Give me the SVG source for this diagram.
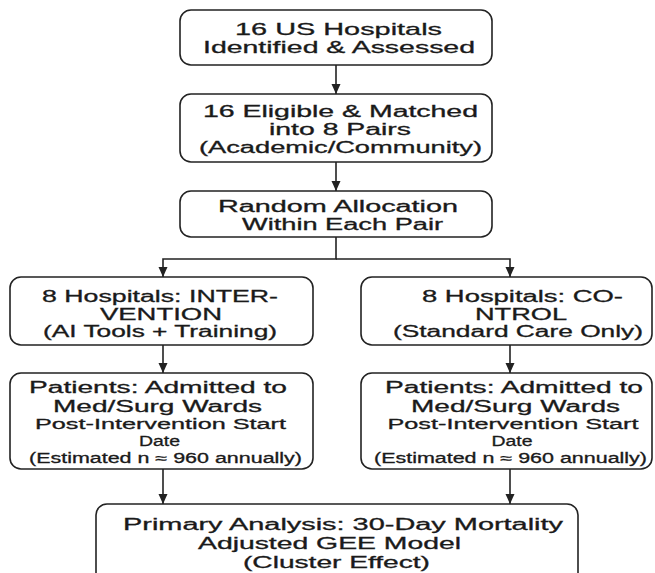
<svg xmlns="http://www.w3.org/2000/svg" width="655" height="573" viewBox="0 0 655 573">
<style>
.box{fill:#fff;stroke:#222;stroke-width:1.6}
.t{font-family:"Liberation Sans",Arial,sans-serif;font-size:16px;fill:#1a1a1a;stroke:#1a1a1a;stroke-width:0.3;text-anchor:middle}
.s{font-size:14px}
.b{font-size:17px}
.c{fill:none;stroke:#222;stroke-width:1.6}
</style>
<defs>
<marker id="ah" markerUnits="userSpaceOnUse" markerWidth="10" markerHeight="10" refX="10" refY="5" orient="auto">
<path d="M0,0.5 L10,5 L0,9.5 z" fill="#222"/>
</marker>
</defs>
<rect width="655" height="573" fill="#fff"/>
<g id="connectors">
<path class="c" d="M336,65 V94" marker-end="url(#ah)"/>
<path class="c" d="M336,162 V191" marker-end="url(#ah)"/>
<path class="c" d="M336,237 V259 H163 V277" marker-end="url(#ah)"/>
<path class="c" d="M336,259 H510 V277" marker-end="url(#ah)"/>
<path class="c" d="M163,345 V373" marker-end="url(#ah)"/>
<path class="c" d="M510,345 V373" marker-end="url(#ah)"/>
<path class="c" d="M163,469 V504" marker-end="url(#ah)"/>
<path class="c" d="M510,469 V504" marker-end="url(#ah)"/>
</g>
<g id="n1">
<rect class="box" x="180" y="10" width="312" height="55" rx="11"/>
<text class="t b" x="338.5" y="35" textLength="207" lengthAdjust="spacingAndGlyphs">16 US Hospitals</text>
<text class="t b" x="339" y="53" textLength="272" lengthAdjust="spacingAndGlyphs">Identified &amp; Assessed</text>
</g>
<g id="n2">
<rect class="box" x="180" y="94" width="312" height="68" rx="11"/>
<text class="t" x="340.5" y="117" textLength="275" lengthAdjust="spacingAndGlyphs">16 Eligible &amp; Matched</text>
<text class="t" x="340" y="135" textLength="142" lengthAdjust="spacingAndGlyphs">into 8 Pairs</text>
<text class="t" x="340.5" y="153" textLength="283" lengthAdjust="spacingAndGlyphs">(Academic/Community)</text>
</g>
<g id="n3">
<rect class="box" x="180" y="191" width="312" height="46" rx="11"/>
<text class="t" x="338" y="212" textLength="240" lengthAdjust="spacingAndGlyphs">Random Allocation</text>
<text class="t" x="342.5" y="230" textLength="201" lengthAdjust="spacingAndGlyphs">Within Each Pair</text>
</g>
<g id="n4">
<rect class="box" x="10" y="277" width="303" height="68" rx="11"/>
<text class="t" x="160" y="302" textLength="236" lengthAdjust="spacingAndGlyphs">8 Hospitals: INTER-</text>
<text class="t" x="161" y="320" textLength="122" lengthAdjust="spacingAndGlyphs">VENTION</text>
<text class="t" x="160" y="337" textLength="234" lengthAdjust="spacingAndGlyphs">(AI Tools + Training)</text>
</g>
<g id="n5">
<rect class="box" x="361" y="277" width="291" height="68" rx="11"/>
<text class="t" x="522.5" y="302" textLength="201" lengthAdjust="spacingAndGlyphs">8 Hospitals: CO-</text>
<text class="t" x="521" y="320" textLength="92" lengthAdjust="spacingAndGlyphs">NTROL</text>
<text class="t" x="518" y="337" textLength="250" lengthAdjust="spacingAndGlyphs">(Standard Care Only)</text>
</g>
<g id="n6">
<rect class="box" x="10" y="373" width="303" height="96" rx="11"/>
<text class="t" x="158" y="393" textLength="258" lengthAdjust="spacingAndGlyphs">Patients: Admitted to</text>
<text class="t" x="157.5" y="412" textLength="209" lengthAdjust="spacingAndGlyphs">Med/Surg Wards</text>
<text class="t s" x="160.5" y="429" textLength="251" lengthAdjust="spacingAndGlyphs">Post-Intervention Start</text>
<text class="t s" x="159.5" y="446" textLength="41" lengthAdjust="spacingAndGlyphs">Date</text>
<text class="t s" x="165.5" y="463" textLength="273" lengthAdjust="spacingAndGlyphs">(Estimated n ≈ 960 annually)</text>
</g>
<g id="n7">
<rect class="box" x="361" y="373" width="291" height="96" rx="11"/>
<text class="t" x="514" y="393" textLength="258" lengthAdjust="spacingAndGlyphs">Patients: Admitted to</text>
<text class="t" x="515.5" y="412" textLength="209" lengthAdjust="spacingAndGlyphs">Med/Surg Wards</text>
<text class="t s" x="513" y="429" textLength="251" lengthAdjust="spacingAndGlyphs">Post-Intervention Start</text>
<text class="t s" x="512" y="446" textLength="41" lengthAdjust="spacingAndGlyphs">Date</text>
<text class="t s" x="510.5" y="463" textLength="273" lengthAdjust="spacingAndGlyphs">(Estimated n ≈ 960 annually)</text>
</g>
<g id="n8">
<rect class="box" x="96" y="504" width="482" height="80" rx="11"/>
<text class="t" x="343" y="530" textLength="440" lengthAdjust="spacingAndGlyphs">Primary Analysis: 30-Day Mortality</text>
<text class="t" x="329.5" y="549" textLength="263" lengthAdjust="spacingAndGlyphs">Adjusted GEE Model</text>
<text class="t" x="336.5" y="568" textLength="187" lengthAdjust="spacingAndGlyphs">(Cluster Effect)</text>
</g>
</svg>
